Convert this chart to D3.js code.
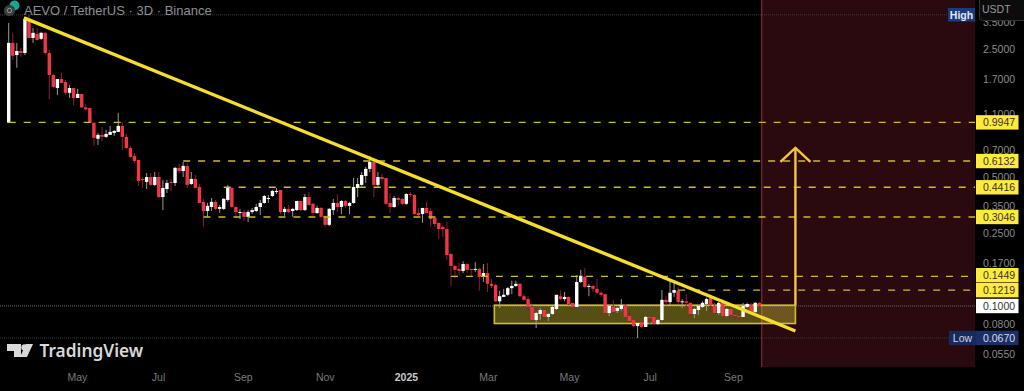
<!DOCTYPE html>
<html>
<head>
<meta charset="utf-8">
<script src="https://cdn.jsdelivr.net/npm/d3@7"></script>
<style>
html, body { margin: 0; padding: 0; background: #000; overflow: hidden; }
text { font-family: "Liberation Sans", sans-serif; }
.xAxis path, .xAxis line, .yAxis path, .yAxis line { display: none; }
</style>
</head>
<body>
<div class="container"></div>
<script>
var width = 1024;
var height = 391;
var plotRight = 975;
var plotBottom = 367;

// one row per candle, 3D bars
var opens = [.991,2.69,2.31,2.43,2.37,3.63,2.86,3.01,2.83,3.05,2.37,1.80,1.53,1.71,1.65,1.44,1.53,1.35,1.42,1.20,1.19,.991,.81,.851,.83,.851,.872,.883,.952,.83,
    .722,.654,.622,.49,.472,.502,.455,.502,.391,.432,.472,.466,.563,.541,.577,.46,.49,.443,.368,.328,.345,.368,.337,.337,.377,.438,.345,.32,.324,.305,
    .324,.328,.345,.363,.382,.396,.416,.427,.324,.337,.328,.332,.372,.332,.391,.359,.32,.341,.309,.276,.332,.363,.345,.372,.35,.363,.438,.455,.509,.556,
    .607,.455,.502,.496,.363,.345,.386,.382,.359,.406,.401,.32,.316,.341,.328,.301,.283,.269,.262,.192,.165,.159,.155,.169,.159,.157,.159,.144,.151,.132,
    .13,.106,.112,.115,.125,.1285,.132,.113,.109,.0988,.0839,.0905,.0951,.0872,.0905,.0963,.113,.109,.112,.104,.0988,.135,.144,.127,.1285,.124,.118,.116,.0916,.0988,
    .094,.0963,.101,.0882,.0839,.0778,.0818,.0769,.0872,.0872,.0798,.0839,.108,.105,.118,.121,.105,.106,.104,.0905,.0951,.0988,.1025,.111,.1,.0916,.105,.0882,
    .0963,.0894,.0882,.0872,.0988,.101,.0928,.104];
var highs = [3.45,3.05,2.69,2.53,3.72,3.82,3.24,3.24,3.09,3.09,2.46,1.83,1.71,1.85,1.69,1.59,1.53,1.51,1.42,1.25,1.20,.991,.872,.94,.905,.952,.905,1.12,1.0,.861,
    .741,.678,.622,.502,.528,.528,.535,.535,.484,.484,.49,.57,.592,.607,.599,.535,.515,.46,.382,.363,.386,.377,.354,.386,.455,.443,.35,.337,.332,.332,
    .341,.359,.377,.401,.401,.427,.438,.427,.345,.354,.341,.372,.372,.406,.416,.363,.35,.345,.309,.341,.382,.406,.377,.377,.368,.496,.496,.535,.57,.654,
    .614,.535,.522,.496,.411,.396,.391,.386,.411,.416,.406,.341,.341,.368,.341,.305,.283,.276,.286,.192,.167,.171,.175,.171,.159,.173,.161,.169,.171,.14,
    .132,.121,.124,.127,.137,.137,.133,.116,.113,.101,.0928,.0975,.0963,.0916,.1,.115,.121,.119,.113,.104,.147,.157,.161,.132,.13,.14,.121,.116,.101,.108,
    .0988,.109,.1025,.0963,.085,.0808,.0818,.0882,.0882,.0882,.085,.122,.113,.137,.135,.127,.109,.116,.104,.0975,.101,.106,.111,.111,.104,.105,.109,.0975,
    .0975,.0916,.0894,.104,.104,.104,.105,.105];
var lows = [.991,2.17,1.97,2.26,2.31,2.86,2.69,2.76,2.79,2.31,1.33,1.53,1.40,1.63,1.40,1.35,1.23,1.35,1.19,1.15,.991,.741,.75,.788,.82,.851,.84,.883,.704,.713,
    .638,.599,.449,.438,.432,.449,.449,.386,.332,.411,.422,.449,.522,.502,.438,.455,.438,.363,.269,.305,.328,.332,.32,.332,.368,.341,.305,.297,.29,.286,
    .316,.324,.312,.359,.363,.391,.406,.316,.309,.32,.305,.328,.328,.328,.35,.309,.316,.301,.269,.272,.312,.324,.316,.341,.316,.359,.391,.449,.466,.535,
    .391,.443,.466,.354,.32,.341,.35,.354,.354,.391,.312,.309,.283,.32,.269,.269,.232,.237,.178,.1285,.142,.147,.151,.151,.144,.153,.121,.135,.119,.125,
    .105,.0975,.112,.113,.116,.127,.112,.106,.094,.0829,.0759,.0839,.086,.0829,.0894,.0951,.108,.106,.101,.0951,.0988,.133,.125,.113,.119,.116,.112,.0905,.0882,.0916,
    .0916,.094,.086,.0818,.0769,.067,.0759,.0769,.0788,.0788,.0788,.0829,.101,.101,.112,.1025,.0975,.0988,.0882,.086,.0894,.0975,.094,.0916,.0905,.0894,.0872,.0872,
    .0882,.0829,.0829,.0872,.0975,.0928,.0916,.0988];
var closes = [2.69,2.29,2.43,2.37,3.63,2.86,3.05,2.79,3.05,2.37,1.80,1.55,1.71,1.63,1.44,1.53,1.35,1.42,1.20,1.17,.991,.82,.851,.83,.861,.883,.894,.952,.83,.722,
    .646,.614,.478,.484,.502,.455,.502,.391,.438,.466,.466,.563,.541,.577,.455,.49,.438,.363,.328,.35,.368,.337,.345,.382,.438,.345,.324,.324,.305,.324,
    .332,.345,.363,.396,.386,.422,.422,.324,.337,.324,.337,.372,.332,.391,.354,.32,.341,.305,.276,.337,.363,.345,.372,.35,.363,.443,.46,.515,.556,.607,
    .455,.502,.49,.359,.345,.386,.377,.359,.406,.401,.316,.312,.341,.32,.297,.279,.262,.262,.189,.165,.157,.155,.169,.157,.157,.159,.144,.151,.132,.1285,
    .106,.113,.115,.125,.1285,.132,.113,.108,.0988,.0839,.0916,.0951,.0872,.0905,.0988,.115,.109,.112,.1025,.0988,.135,.146,.127,.1285,.124,.118,.115,.0916,.1,.0928,
    .0975,.101,.0872,.0829,.0778,.0808,.0769,.0872,.086,.0798,.0839,.108,.105,.118,.122,.105,.106,.104,.0905,.0963,.1,.104,.109,.101,.0916,.104,.0882,.0963,
    .0894,.0882,.0872,.1,.1025,.0928,.104,.1];

var priceTicks = [3.5, 2.5, 1.7, 1.1, 0.7, 0.5, 0.35, 0.25, 0.17, 0.08, 0.055];
var timeTickBars = [16.8, 36.8, 57.7, 77.9, 97.9, 118.1, 138.1, 158, 178.5];
var timeTickLabels = ['May', 'Jul', 'Sep', 'Nov', '2025', 'Mar', 'May', 'Jul', 'Sep'];

// drawings on the chart, in bar index / price
var levelPrices = [0.9947, 0.6132, 0.4416, 0.3046, 0.1449, 0.1219];
var levelStartBars = [0, 43, 53, 48, 109, 165];
var levelLabelPrices = [0.9947, 0.6132, 0.4416, 0.3046, 0.147, 0.1219];
var trendBars = [3.77, 193.9];
var trendPrices = [3.68, 0.0731];
var boxBars = [119.7, 193.9];
var boxPrices = [0.101, 0.0803];
var arrowBars = [193.9, 190.2, 197.6];
var arrowPrices = [0.101, 0.722, 0.607];
var zoneStartBar = 185.6;
var lastPrice = 0.1, highPrice = 3.82, lowPrice = 0.067;

var svg = d3.select('.container').append('svg')
    .attr('width', width)
    .attr('height', height)
    .style('display', 'block');

var xScale = d3.scaleLinear().domain([0, 185]).range([8.7, 759.3]);
var yScale = d3.scaleLog().domain([0.0466, 4.6]).range([plotBottom, 0]);

// red zone on the right
var zoneX = xScale(zoneStartBar);
svg.append('rect')
    .attr('x', zoneX).attr('y', 0)
    .attr('width', plotRight - zoneX).attr('height', plotBottom)
    .attr('fill', '#2a0a0f');
svg.append('line')
    .attr('x1', zoneX).attr('x2', zoneX)
    .attr('y1', 0).attr('y2', plotBottom)
    .attr('stroke', '#8c2233').attr('stroke-width', 1.2);

// high / last / low dotted lines
[[highPrice, '#3a3a3a'], [lastPrice, '#6a6a6a'], [lowPrice, '#383838']].forEach(function(d) {
    svg.append('line')
        .attr('x1', 0).attr('x2', plotRight)
        .attr('y1', yScale(d[0])).attr('y2', yScale(d[0]))
        .attr('stroke', d[1])
        .attr('stroke-dasharray', '1,1');
});

// consolidation box
svg.append('rect')
    .attr('x', xScale(boxBars[0])).attr('y', yScale(boxPrices[0]))
    .attr('width', xScale(boxBars[1]) - xScale(boxBars[0]))
    .attr('height', yScale(boxPrices[1]) - yScale(boxPrices[0]))
    .attr('fill', 'rgba(235,220,60,0.36)')
    .attr('stroke', '#cdbf33')
    .attr('stroke-width', 1.6);

// candles
var bars = svg.append('g').classed('candles', true)
    .selectAll('g').data(d3.range(opens.length)).enter().append('g');

bars.append('line')
    .attr('x1', function(i) { return xScale(i); })
    .attr('x2', function(i) { return xScale(i); })
    .attr('y1', function(i) { return yScale(highs[i]); })
    .attr('y2', function(i) { return yScale(lows[i]); })
    .attr('stroke', function(i) { return closes[i] >= opens[i] ? '#9a9a9a' : '#8f1f2d'; })
    .attr('stroke-width', 1);

bars.append('rect')
    .attr('x', function(i) { return xScale(i) - 1.7; })
    .attr('width', 3.4)
    .attr('y', function(i) { return yScale(Math.max(opens[i], closes[i])); })
    .attr('height', function(i) { return Math.max(1, Math.abs(yScale(opens[i]) - yScale(closes[i]))); })
    .attr('fill', function(i) { return closes[i] >= opens[i] ? '#ffffff' : '#f23645'; });

// dashed levels
svg.append('g').selectAll('line').data(levelPrices).enter().append('line')
    .attr('x1', function(d, i) { return xScale(levelStartBars[i]); })
    .attr('x2', plotRight)
    .attr('y1', function(d) { return yScale(d); })
    .attr('y2', function(d) { return yScale(d); })
    .attr('stroke', '#cdbb30')
    .attr('stroke-width', 1.4)
    .attr('stroke-dasharray', '7,8');

// breakout arrow
var arrowColor = '#f4c63f';
svg.append('line')
    .attr('x1', xScale(arrowBars[0])).attr('x2', xScale(arrowBars[0]))
    .attr('y1', yScale(arrowPrices[0])).attr('y2', yScale(arrowPrices[1]))
    .attr('stroke', arrowColor).attr('stroke-width', 2.4);
var arrowHead = d3.line()
    .x(function(d) { return xScale(d[0]); })
    .y(function(d) { return yScale(d[1]); });
svg.append('path')
    .attr('d', arrowHead([[arrowBars[1], arrowPrices[2]], [arrowBars[0], arrowPrices[1]], [arrowBars[2], arrowPrices[2]]]))
    .attr('fill', 'none').attr('stroke', arrowColor).attr('stroke-width', 2.4);

// falling trend line
svg.append('line')
    .attr('x1', xScale(trendBars[0])).attr('y1', yScale(trendPrices[0]))
    .attr('x2', xScale(trendBars[1])).attr('y2', yScale(trendPrices[1]))
    .attr('stroke', '#f5de2e').attr('stroke-width', 3.4);

// price axis panel
svg.append('rect')
    .attr('x', plotRight).attr('y', 0)
    .attr('width', width - plotRight).attr('height', height)
    .attr('fill', '#000');

var yAxis = d3.axisRight(yScale)
    .tickValues(priceTicks)
    .tickFormat(d3.format('.4f'))
    .tickSize(0)
    .tickPadding(0);
var yAxisGroup = svg.append('g')
    .call(yAxis)
    .classed('yAxis', true)
    .attr('transform', 'translate(983,0)');
yAxisGroup.selectAll('text')
    .attr('fill', '#8a8a8a')
    .style('font-size', '10.5px');

var xAxis = d3.axisBottom(xScale)
    .tickValues(timeTickBars)
    .tickFormat(function(d, i) { return timeTickLabels[i]; })
    .tickSize(0)
    .tickPadding(0);
var xAxisGroup = svg.append('g')
    .call(xAxis)
    .classed('xAxis', true)
    .attr('transform', 'translate(0,374)');
xAxisGroup.selectAll('text')
    .attr('fill', function(d, i) { return timeTickLabels[i] === '2025' ? '#c8c8c8' : '#7a7a7a'; })
    .style('font-size', '10.5px')
    .style('font-weight', function(d, i) { return timeTickLabels[i] === '2025' ? 'bold' : 'normal'; });

var priceLabel = function(labelPrice, price, fill, textFill) {
    var y = yScale(labelPrice);
    svg.append('rect')
        .attr('x', 976).attr('y', y - 7.2)
        .attr('width', 42.5).attr('height', 14.4)
        .attr('fill', fill);
    svg.append('text')
        .attr('x', 983).attr('y', y + 3.8)
        .attr('fill', textFill)
        .style('font-size', '10.5px')
        .text(d3.format('.4f')(price));
};

levelPrices.forEach(function(p, i) { priceLabel(levelLabelPrices[i], p, '#ffeb3b', '#333'); });
priceLabel(lastPrice, lastPrice, '#ffffff', '#333');
priceLabel(lowPrice, lowPrice, '#1b2f66', '#d8dcea');

// Low / High tags
svg.append('rect').attr('x', 949).attr('y', yScale(lowPrice) - 7.2)
    .attr('width', 27).attr('height', 14.4).attr('fill', '#182a5c');
svg.append('text').attr('x', 962.5).attr('y', yScale(lowPrice) + 3.8)
    .attr('text-anchor', 'middle').attr('fill', '#cfd4e4')
    .style('font-size', '10.5px').text('Low');
svg.append('rect').attr('x', 948).attr('y', 8)
    .attr('width', 27).attr('height', 13.5).attr('fill', '#1b3a80');
svg.append('text').attr('x', 961.5).attr('y', 18.5)
    .attr('text-anchor', 'middle').attr('fill', '#e4e8f2')
    .style('font-size', '10.5px').style('font-weight', 'bold').text('High');

// currency button
svg.append('rect')
    .attr('x', 979.5).attr('y', -4)
    .attr('width', 50).attr('height', 24.5).attr('rx', 3)
    .attr('fill', '#0c0c0c').attr('stroke', '#333');
svg.append('text').attr('x', 982).attr('y', 13)
    .attr('fill', '#9a9a9a').style('font-size', '10.5px').text('USDT');

// title with coin icons
svg.append('circle').attr('cx', 14.5).attr('cy', 5.5).attr('r', 5).attr('fill', '#1fa38f');
svg.append('circle').attr('cx', 9.5).attr('cy', 10.5).attr('r', 5.5).attr('fill', '#3a3f42');
svg.append('circle').attr('cx', 9.5).attr('cy', 10.5).attr('r', 2.2).attr('fill', 'none').attr('stroke', '#9a9a9a');
svg.append('text').attr('x', 24).attr('y', 15)
    .attr('fill', '#8c9096')
    .style('font-size', '13px')
    .text('AEVO / TetherUS · 3D · Binance');

// watermark
var logo = svg.append('g').attr('fill', '#d9d9d9');
logo.append('path').attr('d', 'M7 344H21V357H14V351H7Z');
logo.append('circle').attr('cx', 24.5).attr('cy', 347.5).attr('r', 3.2);
logo.append('path').attr('d', 'M26 344H33L27 357H20Z');
svg.append('text').attr('x', 39.5).attr('y', 357)
    .attr('fill', '#d9d9d9')
    .style('font-family', '"Noto Sans", sans-serif')
    .style('font-size', '17.3px')
    .style('font-weight', '600')
    .text('TradingView');
</script>
</body>
</html>
